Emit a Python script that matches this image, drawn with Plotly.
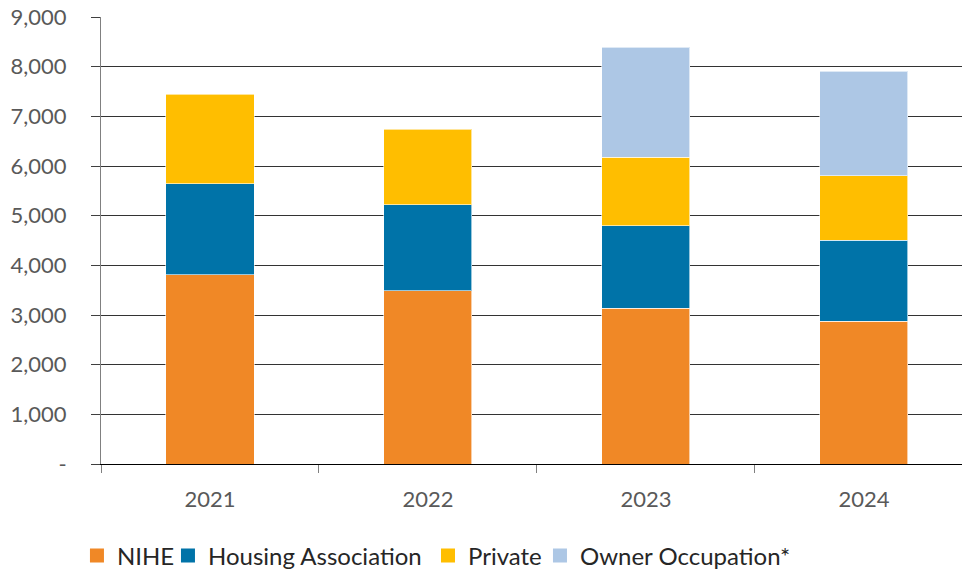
import plotly.graph_objects as go

years = ["2021", "2022", "2023", "2024"]
nihe = [3810, 3490, 3140, 2870]
housing_association = [1830, 1730, 1660, 1640]
private = [1800, 1525, 1380, 1295]
owner_occupation = [None, None, 2216, 2103]

y_ticks = [0, 1000, 2000, 3000, 4000, 5000, 6000, 7000, 8000, 9000]
y_tick_text = ["-", "1,000", "2,000", "3,000", "4,000", "5,000", "6,000", "7,000", "8,000", "9,000"]

series = [
    ("NIHE", nihe, "#F08826"),
    ("Housing Association", housing_association, "#0073A8"),
    ("Private", private, "#FFBE00"),
    ("Owner Occupation*", owner_occupation, "#ADC7E5"),
]

FONT = "Lato, 'Source Sans Pro', sans-serif"

# one legend per entry so the spacing can follow the original
legend_ids = ["legend", "legend2", "legend3", "legend4"]
legend_x = [0.080, 0.1746, 0.4449, 0.5613]

fig = go.Figure()
for name, values, color in series:
    fig.add_trace(go.Bar(
        x=years,
        y=values,
        name=name,
        showlegend=False,
        marker=dict(color=color, line=dict(color="rgba(255,255,255,0.6)", width=1)),
    ))

for (name, values, color), lg in zip(series, legend_ids):
    fig.add_trace(go.Scatter(
        x=[None],
        y=[None],
        mode="markers",
        name=name,
        legend=lg,
        marker=dict(symbol="square", size=14, color=color),
    ))

legend_style = dict(
    orientation="h",
    xref="container",
    yref="container",
    xanchor="left",
    y=0.0297,
    yanchor="middle",
    font=dict(size=24, color="#262626"),
    itemwidth=30,
    bgcolor="rgba(0,0,0,0)",
)

fig.update_layout(
    barmode="stack",
    bargap=0.596,
    width=962,
    height=573,
    margin=dict(l=101, r=0, t=17, b=109),
    plot_bgcolor="white",
    paper_bgcolor="white",
    font=dict(family=FONT, color="#595959", size=22),
    showlegend=True,
)
for lg, lx in zip(legend_ids, legend_x):
    fig.update_layout({lg: dict(legend_style, x=lx)})

fig.update_xaxes(
    range=[-0.5, 3.45],
    automargin=False,
    showline=True,
    linecolor="#000000",
    linewidth=1,
    ticks="outside",
    tickson="boundaries",
    ticklen=8,
    tickcolor="#808080",
    ticklabelstandoff=16,
    showgrid=False,
)

fig.update_yaxes(
    range=[0, 9000],
    automargin=False,
    tickvals=y_ticks,
    ticktext=y_tick_text,
    ticklabeloverflow="allow",
    showline=True,
    linecolor="#808080",
    linewidth=1,
    ticks="outside",
    ticklen=9,
    tickcolor="#404040",
    ticklabelstandoff=20,
    showgrid=True,
    gridcolor="#333333",
    gridwidth=1,
    zeroline=False,
)

# drop the default page margin so the figure fills the window
fig.write_html(
    "out.html",
    config={"displayModeBar": False},
    post_script="document.body.style.margin = '0';",
)
